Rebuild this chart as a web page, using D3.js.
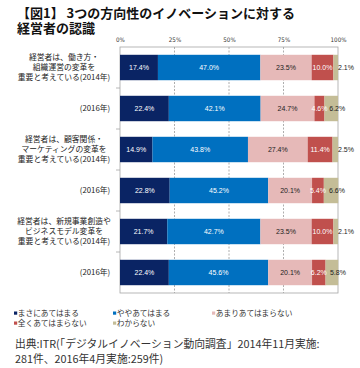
<!DOCTYPE html>
<html><head><meta charset="utf-8">
<script src="https://cdn.jsdelivr.net/npm/d3@7"></script>
<style>
html,body{margin:0;padding:0;background:#fff;}
svg{display:block;font-family:"Noto Sans CJK JP","Noto Sans",sans-serif;}
</style></head>
<body>
<script>
const categories = [
  ["経営者は、働き方・","組織運営の変革を","重要と考えている(2014年)"],
  ["(2016年)"],
  ["経営者は、顧客関係・","マーケティングの変革を","重要と考えている(2014年)"],
  ["(2016年)"],
  ["経営者は、新規事業創造や","ビジネスモデル変革を","重要と考えている(2014年)"],
  ["(2016年)"]
];
const seriesNames = ["まさにあてはまる","ややあてはまる","あまりあてはまらない","全くあてはまらない","わからない"];
const seriesColors = ["#0a2464","#0070c0","#e6b9b8","#c0504d","#c4bd97"];
const labelColors = ["#ffffff","#ffffff","#222222","#ffffff","#222222"];
const strongly = [17.4, 22.4, 14.9, 22.8, 21.7, 22.4];
const somewhat = [47.0, 42.1, 43.8, 45.2, 42.7, 45.6];
const notMuch  = [23.5, 24.7, 27.4, 20.1, 23.5, 20.1];
const notAtAll = [10.0, 4.6, 11.4, 5.4, 10.0, 6.2];
const unknown  = [2.1, 6.2, 2.5, 6.6, 2.1, 5.8];
const tickValues = [0, 25, 50, 75, 100];
const tickLabels = ["0%","25%","50%","75%","100%"];
const title = ["【図1】 3つの方向性のイノベーションに対する","経営者の認識"];
const source = ["出典:ITR(「デジタルイノベーション動向調査」2014年11月実施:","281件、2016年4月実施:259件)"];

const series = [strongly, somewhat, notMuch, notAtAll, unknown];
const W = 360, H = 368;
const svg = d3.select("body").append("svg").attr("width", W).attr("height", H);

// title
svg.append("g").selectAll("text").data(title).join("text")
  .attr("x", 17).attr("y", (d,i)=> 18 + i*15)
  .attr("font-size", 13).attr("font-weight", "bold").attr("fill", "#111")
  .text(d=>d);

const x = d3.scaleLinear().domain([0,100]).range([120, 338]);
const y = d3.scaleBand().domain(d3.range(categories.length)).range([47, 293]).paddingInner(0.38).paddingOuter(0.19);

const stackData = categories.map((c,i)=>{
  let acc = 0;
  return series.map((s,k)=>{ const v=s[i]; const o={i,k,v,x0:acc,x1:acc+v}; acc+=v; return o; });
});

// gridlines
svg.append("g").selectAll("line").data(tickValues.filter(v=>v>0 && v<100)).join("line")
  .attr("x1", d=>x(d)).attr("x2", d=>x(d)).attr("y1", 47).attr("y2", 293)
  .attr("stroke", "#999").attr("stroke-width", 0.8).attr("stroke-dasharray", "2,1.5");

// frame
svg.append("rect").attr("x", x(0)).attr("y", 47).attr("width", x(100)-x(0)).attr("height", 246)
  .attr("fill", "none").attr("stroke", "#a6a6a6").attr("stroke-width", 0.8);

// top axis labels
const axTop = svg.append("g").attr("transform", "translate(0,47)")
  .call(d3.axisTop(x).tickValues(tickValues).tickFormat((d,i)=>tickLabels[i]).tickSize(0).tickPadding(5));
axTop.select(".domain").remove();
axTop.selectAll("text").attr("font-size", 6.2).attr("fill", "#333").attr("font-family", "'Liberation Sans Narrow','DejaVu Sans Condensed',sans-serif");

// left ticks at band boundaries
const bounds = d3.range(1, categories.length).map(i => y(i) - y.step()*y.paddingInner()/2);
svg.append("g").selectAll("line").data(bounds).join("line")
  .attr("x1", 116).attr("x2", 120).attr("y1", d=>d).attr("y2", d=>d)
  .attr("stroke", "#a6a6a6").attr("stroke-width", 0.8);

// bars
const g = svg.append("g");
stackData.forEach(row=>{
  g.selectAll(null).data(row).join("rect")
    .attr("x", d=>x(d.x0)).attr("width", d=>x(d.x1)-x(d.x0))
    .attr("y", d=>y(d.i)).attr("height", y.bandwidth())
    .attr("fill", d=>seriesColors[d.k]);
});
// labels
stackData.forEach(row=>{
  g.selectAll(null).data(row).join("text")
    .attr("x", d=>{
      const c = (x(d.x0)+x(d.x1))/2;
      if (d.k===4) return d.v<4 ? x(100) : c+6;
      return c;
    })
    .attr("text-anchor", d=> (d.k===4 && d.v<4) ? "start" : "middle")
    .attr("y", d=>y(d.i)+y.bandwidth()/2).attr("dy","0.35em")
    .attr("font-size", 7).attr("font-family","'Liberation Sans','Arial',sans-serif")
    .attr("fill", d=>labelColors[d.k])
    .text(d=>d.v.toFixed(1)+"%");
});

// category labels
const cat = svg.append("g");
categories.forEach((lines,i)=>{
  const cy = y(i)+y.bandwidth()/2;
  const lh = 10;
  const t = cat.append("text").attr("font-size", 7.8).attr("fill","#222").attr("text-anchor","middle");
  const cx = lines.length>1 ? 64 : 95;
  lines.forEach((l,j)=>{
    t.append("tspan").attr("x", cx).attr("y", cy + (j-(lines.length-1)/2)*lh).attr("dy","0.35em").text(l);
  });
});

// legend
const legPos = [[14,313],[113,313],[212,313],[14,323],[113,323]];
const leg = svg.append("g");
seriesNames.forEach((n,k)=>{
  const [lx,ly] = legPos[k];
  leg.append("rect").attr("x", lx).attr("y", ly-1.5).attr("width", 3.2).attr("height", 3.2).attr("fill", seriesColors[k]);
  leg.append("text").attr("x", lx+3.8).attr("y", ly).attr("dy","0.35em").attr("font-size", 7.7).attr("fill","#333").text(n);
});

// source
svg.append("g").selectAll("text").data(source).join("text")
  .attr("x", 15).attr("y", (d,i)=>348+i*14.5)
  .attr("font-size", 10.8).attr("fill","#333").text(d=>d);
</script>
</body></html>
